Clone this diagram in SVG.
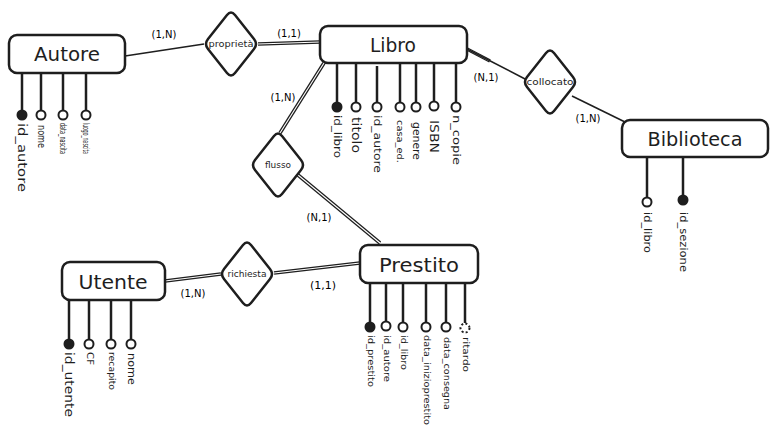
<svg xmlns="http://www.w3.org/2000/svg" xmlns:xlink="http://www.w3.org/1999/xlink" width="779" height="437" viewBox="0 0 779 437">
<style>
text{font-family:"DejaVu Sans","Liberation Sans",sans-serif;fill:#1e1e1e}
.ent{fill:#fff;stroke:#1e1e1e;stroke-width:2.5}
.et{font-size:20px;text-anchor:middle;dominant-baseline:central}
.dia{fill:#fff;stroke:#1e1e1e;stroke-width:2.5;stroke-linejoin:round}
.dt{font-size:8px;text-anchor:middle;dominant-baseline:central}
.al{stroke:#1e1e1e;stroke-width:2.5;fill:none}
.ao{fill:#fff;stroke:#1e1e1e;stroke-width:2}
.af{fill:#1e1e1e;stroke:#1e1e1e;stroke-width:2}
.ad{fill:#fff;stroke:#1e1e1e;stroke-width:2;stroke-dasharray:2 2.2}
.at{text-anchor:start;dominant-baseline:central}
.c1{stroke:#1e1e1e;stroke-width:1.6;fill:none}
.c2o{stroke:#1e1e1e;stroke-width:3.6;fill:none}
.c2i{stroke:#fff;stroke-width:1.1;fill:none}
.card{font-size:10px;text-anchor:middle;dominant-baseline:central;fill:#000}
</style>
<defs>
<path id="dia" class="dia" d="M-23,-5 l19,-24 q4,-5 8,0 l19,24 q4,5 0,10 l-19,24 q-4,5 -8,0 l-19,-24 q-4,-5 0,-10 z"/>
</defs>

<g id="connectors">
<line class="c1" x1="125" y1="56" x2="204" y2="44"/>
<line class="c2o" x1="258" y1="44" x2="320" y2="42"/><line class="c2i" x1="258" y1="44" x2="320" y2="42"/>
<line class="c2o" x1="467" y1="49" x2="490" y2="61"/><line class="c2i" x1="467" y1="49" x2="490" y2="61"/>
<line class="c1" x1="467" y1="49" x2="527" y2="80"/>
<line class="c1" x1="572" y1="96" x2="625" y2="122"/>
<line class="c2o" x1="324" y1="63" x2="280" y2="133"/><line class="c2i" x1="324" y1="63" x2="280" y2="133"/>
<line class="c2o" x1="298" y1="175" x2="380" y2="243"/><line class="c2i" x1="298" y1="175" x2="380" y2="243"/>
<line class="c2o" x1="165" y1="281" x2="221" y2="274"/><line class="c2i" x1="165" y1="281" x2="221" y2="274"/>
<line class="c2o" x1="274" y1="273" x2="360" y2="263"/><line class="c2i" x1="274" y1="273" x2="360" y2="263"/>
<text class="card" x="164" y="34">(1,N)</text>
<text class="card" x="289" y="33">(1,1)</text>
<text class="card" x="486" y="77">(N,1)</text>
<text class="card" x="588" y="118">(1,N)</text>
<text class="card" x="283" y="97">(1,N)</text>
<text class="card" x="319" y="217">(N,1)</text>
<text class="card" x="193" y="293">(1,N)</text>
<text class="card" x="323" y="285" style="font-size:11px">(1,1)</text>
</g>

<g id="autore">
<line class="al" x1="22" y1="73" x2="22" y2="111"/>
<line class="al" x1="41" y1="73" x2="41" y2="111"/>
<line class="al" x1="63" y1="73" x2="63" y2="111"/>
<line class="al" x1="86" y1="73" x2="86" y2="111"/>
<rect class="ent" x="9" y="35" width="116" height="38" rx="8"/>
<text class="et" x="67" y="54" textLength="66" lengthAdjust="spacingAndGlyphs">Autore</text>
<circle class="af" cx="22" cy="115" r="4.5"/>
<circle class="ao" cx="41" cy="115" r="4.5"/>
<circle class="ao" cx="63" cy="115" r="4.5"/>
<circle class="ao" cx="86" cy="115" r="4.5"/>
<text class="at" transform="translate(22,123) rotate(90)" style="font-size:13px" textLength="69" lengthAdjust="spacingAndGlyphs">id_autore</text>
<text class="at" transform="translate(41,125) rotate(90)" style="font-size:10px" textLength="23" lengthAdjust="spacingAndGlyphs">nome</text>
<text class="at" transform="translate(63,123) rotate(90)" style="font-size:8.5px" textLength="31" lengthAdjust="spacingAndGlyphs">data_nascita</text>
<text class="at" transform="translate(86,123) rotate(90)" style="font-size:8.5px" textLength="31" lengthAdjust="spacingAndGlyphs">luogo_nascita</text>
</g>

<g id="proprieta">
<use xlink:href="#dia" href="#dia" transform="translate(231,44)"/>
<text class="dt" x="231" y="44" textLength="45" lengthAdjust="spacingAndGlyphs">proprietà</text>
</g>

<g id="libro">
<line class="al" x1="337" y1="63" x2="337" y2="103"/>
<line class="al" x1="356" y1="63" x2="356" y2="103"/>
<line class="al" x1="377" y1="66" x2="377" y2="103"/>
<line class="al" x1="400" y1="63" x2="400" y2="103"/>
<line class="al" x1="416" y1="63" x2="416" y2="103"/>
<line class="al" x1="434" y1="63" x2="434" y2="103"/>
<line class="al" x1="456" y1="63" x2="456" y2="103"/>
<rect class="ent" x="320" y="26" width="147" height="37" rx="8"/>
<text class="et" x="393" y="45" textLength="46" lengthAdjust="spacingAndGlyphs">Libro</text>
<circle class="af" cx="337" cy="107" r="4.5"/>
<circle class="ao" cx="356" cy="107" r="4.5"/>
<circle class="ao" cx="377" cy="107" r="4.5"/>
<circle class="ao" cx="400" cy="107" r="4.5"/>
<circle class="ao" cx="416" cy="107" r="4.5"/>
<circle class="ao" cx="434" cy="106" r="4.5"/>
<circle class="ao" cx="456" cy="107" r="4.5"/>
<text class="at" transform="translate(337,115) rotate(90)" style="font-size:10px" textLength="43" lengthAdjust="spacingAndGlyphs">id_libro</text>
<text class="at" transform="translate(356,117) rotate(90)" style="font-size:12px" textLength="36" lengthAdjust="spacingAndGlyphs">titolo</text>
<text class="at" transform="translate(377,115) rotate(90)" style="font-size:10px" textLength="58" lengthAdjust="spacingAndGlyphs">id_autore</text>
<text class="at" transform="translate(400,120) rotate(90)" style="font-size:9px" textLength="43" lengthAdjust="spacingAndGlyphs">casa_ed.</text>
<text class="at" transform="translate(416,122) rotate(90)" style="font-size:10px" textLength="38" lengthAdjust="spacingAndGlyphs">genere</text>
<text class="at" transform="translate(434,120) rotate(90)" style="font-size:13px" textLength="33" lengthAdjust="spacingAndGlyphs">ISBN</text>
<text class="at" transform="translate(456,115) rotate(90)" style="font-size:11px" textLength="50" lengthAdjust="spacingAndGlyphs">n_copie</text>
</g>

<g id="collocato">
<use xlink:href="#dia" href="#dia" transform="translate(550,82)"/>
<text class="dt" x="550" y="82" textLength="47" lengthAdjust="spacingAndGlyphs">collocato</text>
</g>

<g id="biblioteca">
<line class="al" x1="647" y1="157" x2="647" y2="198"/>
<line class="al" x1="683" y1="157" x2="683" y2="196"/>
<rect class="ent" x="622" y="120" width="146" height="37" rx="8"/>
<text class="et" x="695" y="139" textLength="95" lengthAdjust="spacingAndGlyphs">Biblioteca</text>
<circle class="ao" cx="647" cy="202" r="4.5"/>
<circle class="af" cx="683" cy="200" r="4.5"/>
<text class="at" transform="translate(647,212) rotate(90)" style="font-size:10px" textLength="41" lengthAdjust="spacingAndGlyphs">id_libro</text>
<text class="at" transform="translate(683,212) rotate(90)" style="font-size:10px" textLength="60" lengthAdjust="spacingAndGlyphs">id_sezione</text>
</g>

<g id="flusso">
<use xlink:href="#dia" href="#dia" transform="translate(278,165)"/>
<text class="dt" x="278" y="165" textLength="26" lengthAdjust="spacingAndGlyphs">flusso</text>
</g>

<g id="prestito">
<line class="al" x1="370" y1="283" x2="370" y2="323"/>
<line class="al" x1="386" y1="283" x2="386" y2="322"/>
<line class="al" x1="403" y1="283" x2="403" y2="323"/>
<line class="al" x1="426" y1="283" x2="426" y2="323"/>
<line class="al" x1="446" y1="283" x2="446" y2="323"/>
<line class="al" x1="465" y1="283" x2="465" y2="323"/>
<rect class="ent" x="360" y="245" width="118" height="38" rx="8"/>
<text class="et" x="419" y="265" textLength="80" lengthAdjust="spacingAndGlyphs">Prestito</text>
<circle class="af" cx="370" cy="327" r="4.5"/>
<circle class="ao" cx="386" cy="326" r="4.5"/>
<circle class="ao" cx="403" cy="327" r="4.5"/>
<circle class="ao" cx="426" cy="327" r="4.5"/>
<circle class="ao" cx="446" cy="327" r="4.5"/>
<circle class="ad" cx="465" cy="328" r="4.5"/>
<text class="at" transform="translate(370,335) rotate(90)" style="font-size:8px" textLength="52" lengthAdjust="spacingAndGlyphs">id_prestito</text>
<text class="at" transform="translate(386,335) rotate(90)" style="font-size:8px" textLength="47" lengthAdjust="spacingAndGlyphs">id_autore</text>
<text class="at" transform="translate(403,335) rotate(90)" style="font-size:8px" textLength="35" lengthAdjust="spacingAndGlyphs">id_libro</text>
<text class="at" transform="translate(426,335) rotate(90)" style="font-size:8px" textLength="90" lengthAdjust="spacingAndGlyphs">data_inizioprestito</text>
<text class="at" transform="translate(446,337) rotate(90)" style="font-size:8px" textLength="73" lengthAdjust="spacingAndGlyphs">data_consegna</text>
<text class="at" transform="translate(465,337) rotate(90)" style="font-size:8px" textLength="35" lengthAdjust="spacingAndGlyphs">ritardo</text>
</g>

<g id="richiesta">
<use xlink:href="#dia" href="#dia" transform="translate(247,274)"/>
<text class="dt" x="247" y="274" textLength="39" lengthAdjust="spacingAndGlyphs">richiesta</text>
</g>

<g id="utente">
<line class="al" x1="69" y1="300" x2="69" y2="340"/>
<line class="al" x1="89" y1="300" x2="89" y2="340"/>
<line class="al" x1="111" y1="300" x2="111" y2="340"/>
<line class="al" x1="131" y1="300" x2="131" y2="340"/>
<rect class="ent" x="62" y="262" width="103" height="38" rx="8"/>
<text class="et" x="113" y="282" textLength="69" lengthAdjust="spacingAndGlyphs">Utente</text>
<circle class="af" cx="69" cy="344" r="4.5"/>
<circle class="ao" cx="89" cy="344" r="4.5"/>
<circle class="ao" cx="111" cy="344" r="4.5"/>
<circle class="ao" cx="131" cy="344" r="4.5"/>
<text class="at" transform="translate(69,352) rotate(90)" style="font-size:13px" textLength="65" lengthAdjust="spacingAndGlyphs">id_utente</text>
<text class="at" transform="translate(89,352) rotate(90)" style="font-size:8px" textLength="13" lengthAdjust="spacingAndGlyphs">CF</text>
<text class="at" transform="translate(111,352) rotate(90)" style="font-size:8px" textLength="38" lengthAdjust="spacingAndGlyphs">recapito</text>
<text class="at" transform="translate(131,353) rotate(90)" style="font-size:10px" textLength="32" lengthAdjust="spacingAndGlyphs">nome</text>
</g>
</svg>
